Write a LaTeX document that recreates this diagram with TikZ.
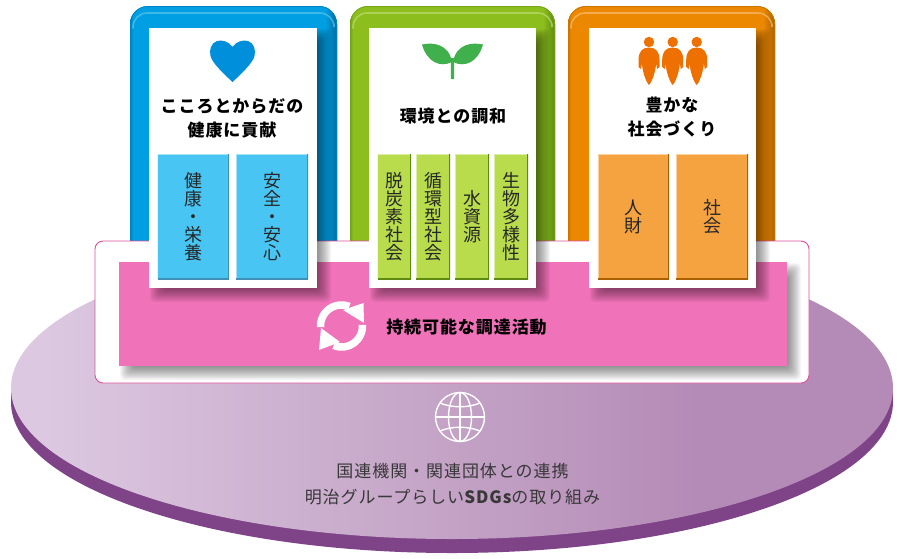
\documentclass[tikz,border=0pt]{standalone}
\usepackage{fontspec}
\setmainfont{Noto Sans CJK JP}
\newfontfamily\jpt[LetterSpace=5.5]{Noto Sans CJK JP}
\usetikzlibrary{calc}
\definecolor{bluebase}{HTML}{009FE3}
\definecolor{bluedark}{HTML}{00699E}
\definecolor{bluelight}{HTML}{6CCBF0}
\definecolor{greenbase}{HTML}{8CBE1E}
\definecolor{greendark}{HTML}{5E8A12}
\definecolor{greenlight}{HTML}{C4E07E}
\definecolor{orangebase}{HTML}{EC8800}
\definecolor{orangedark}{HTML}{A86000}
\definecolor{orangelight}{HTML}{F8C684}
\definecolor{pinkfill}{HTML}{F072B8}
\definecolor{pinkline}{HTML}{DD5098}
\definecolor{discl}{HTML}{DCC8E0}
\definecolor{discr}{HTML}{B48BB6}
\definecolor{discside}{HTML}{7F4488}
\definecolor{subblue}{HTML}{49C5F3}
\definecolor{subgreen}{HTML}{B8DC4C}
\definecolor{suborange}{HTML}{F5A340}
\definecolor{heartc}{HTML}{0090DB}
\definecolor{sproutc}{HTML}{3FB04B}
\definecolor{peoplec}{HTML}{EE7000}
\pgfdeclarehorizontalshading{discshade}{100bp}{color(0bp)=(discl); color(27bp)=(discl); color(64bp)=(discr); color(100bp)=(discr)}
\newcommand{\softshadow}[4]{%
  \foreach \k in {0,...,15}{%
    \fill[black,opacity=.035,rounded corners=4pt]
      ({#1+1+\k*1},{#2+1+\k*1}) rectangle ({#3+14-\k*1},{#4+14-\k*1});
  }}
\newcommand{\cardbase}[5]{%
  \fill[#3,rounded corners=18pt] (#1,6) rectangle (#2,270);
  \begin{scope}
    \clip[rounded corners=18pt] (#1,6) rectangle (#2,270);
    \shade[left color=#3,right color=#4] ({#2-12},6) rectangle (#2,270);
    \shade[left color=#4!60!#3,right color=#3] (#1,6) rectangle ({#1+3},270);
    \draw[#4!50!#3,line width=1.5pt,rounded corners=18pt] (#1,6) rectangle (#2,270);
  \end{scope}
  \draw[#5,line width=1.6pt,opacity=.6,rounded corners=14pt,line cap=round]
    ({#1+3},28) -- ({#1+3},13) -- ({#2-3},13) -- ({#2-3},24);
}
\tikzset{
  whitecard/.style={fill=white,draw=none,inner sep=0pt},
  subbox/.style n args={3}{fill=#1,inner sep=0pt,align=center,
    font=\fontsize{18}{18}\selectfont,text=black!85,
    path picture={
      \draw[#3,line width=1.6pt] (path picture bounding box.south west) -- (path picture bounding box.north west) -- (path picture bounding box.north east);
      \draw[#2,line width=1.6pt] (path picture bounding box.south west) -- (path picture bounding box.south east) -- (path picture bounding box.north east);
    }},
  bluesub/.style={subbox={subblue}{bluedark!75}{subblue!50!white}},
  greensub/.style={subbox={subgreen}{greendark}{subgreen!50!white}},
  orangesub/.style={subbox={suborange}{orangedark}{suborange!50!white}},
  title/.style={font=\jpt\bfseries\fontsize{17}{24}\selectfont,align=center,text=black,inner sep=0pt},
  lower/.style={font=\jpt\fontsize{17}{26}\selectfont,align=center,text=black!78,inner sep=0pt},
}
\newcommand{\subb}[5]{%
  \node[#1,minimum width={#4-#3},minimum height=125pt] (#2) at ({(#3+#4)/2},216.5) {#5};}
\begin{document}
\begin{tikzpicture}[x=1pt,y=-1pt]
\useasboundingbox (0,0) rectangle (900,558);
\fill[white] (0,0) rectangle (900,558);
% disc
\fill[discside] (452,402) ellipse [x radius=441,y radius=151];
\fill[discside] (11,388) rectangle (893,402);
\path[shading=discshade] (452,388) ellipse [x radius=441,y radius=151];
% coloured card backs
\cardbase{130}{337}{bluebase}{bluedark}{bluelight}
\cardbase{350}{555}{greenbase}{greendark}{greenlight}
\cardbase{568}{775}{orangebase}{orangedark}{orangelight}
% band
\node[fill=white,draw=pinkline,line width=.9pt,rounded corners=8pt,minimum width=714pt,minimum height=142pt,inner sep=0pt] (band) at (452,312) {};
\softshadow{119}{262}{787}{366}
\node[fill=pinkfill,minimum width=668pt,minimum height=104pt,inner sep=0pt] (pink) at (453,314) {};
% white cards
\softshadow{149}{28}{317}{288}
\softshadow{369}{28}{536}{288}
\softshadow{589}{28}{756}{288}
\node[whitecard,minimum width=168pt,minimum height=260pt] (cardA) at (233,158) {};
\node[whitecard,minimum width=167pt,minimum height=260pt] (cardB) at (452.5,158) {};
\node[whitecard,minimum width=167pt,minimum height=260pt] (cardC) at (672.5,158) {};
% titles
\node[title] (titleA) at (232,118) {こころとからだの\\健康に貢献};
\node[title] (titleB) at (453,116) {環境との調和};
\node[title] (titleC) at (672,117) {豊かな\\社会づくり};
% sub boxes
\subb{bluesub}{a1}{157.5}{229}{健\\康\\・\\栄\\養}
\subb{bluesub}{a2}{236}{308}{安\\全\\・\\安\\心}
\subb{greensub}{b1}{377.5}{411}{脱\\炭\\素\\社\\会}
\subb{greensub}{b2}{416}{450}{循\\環\\型\\社\\会}
\subb{greensub}{b3}{455}{489}{水\\資\\源}
\subb{greensub}{b4}{494}{528}{生\\物\\多\\様\\性}
\subb{orangesub}{c1}{598}{669}{人\\財}
\subb{orangesub}{c2}{676}{748}{社\\会}
% heart
\fill[heartc] (232.5,47) .. controls (229,41.5) and (222,39.5) .. (217,41) .. controls (211,43) and (209,50) .. (210.5,56) .. controls (212,63) and (225,75) .. (232.5,82)
 .. controls (240,75) and (253,63) .. (254.5,56) .. controls (256,50) and (254,43) .. (248,41) .. controls (243,39.5) and (236,41.5) .. (232.5,47) -- cycle;
% sprout
\fill[sproutc] (422,44.5) .. controls (433,42) and (449,44) .. (452,62) .. controls (440,68) and (427,62) .. (422,44.5) -- cycle;
\fill[sproutc] (483,44.5) .. controls (472,42) and (456,44) .. (453,62) .. controls (465,68) and (478,62) .. (483,44.5) -- cycle;
\fill[sproutc] (451,58) -- (454,58) -- (454.2,79) -- (450.8,79) -- cycle;
% people
\foreach \cx in {649,672.7,696.7}{
  \begin{scope}[shift={(\cx,0)}]
    \fill[peoplec] (0,42) circle [radius=5.2pt];
    \fill[peoplec] (0,47.5) .. controls (-7,47.5) and (-10.5,52) .. (-10.5,60) -- (-10.5,67) -- (-8,69) -- (-7.2,63) .. controls (-6.5,72) and (-3,82) .. (0,85)
      .. controls (3,82) and (6.5,72) .. (7.2,63) -- (8,69) -- (10.5,67) -- (10.5,60) .. controls (10.5,52) and (7,47.5) .. (0,47.5) -- cycle;
  \end{scope}
}
% sync icon
\draw[white,line width=7.5pt] plot[smooth,domain=183:68,samples=24] ({341.5+21*cos(\x)},{326-21*sin(\x)});
\draw[white,line width=7.5pt] plot[smooth,domain=3:-112,samples=24] ({341.5+21*cos(\x)},{326-21*sin(\x)});
\fill[white] (363.5,303) -- (364,323) -- (343,310) -- cycle;
\fill[white] (319,350) -- (321,328) -- (340,342) -- cycle;
% band text
\node[title] (bandtext) at (466.5,327) {持続可能な調達活動};
% globe
\begin{scope}[white,line width=1.4pt]
  \draw (460,417) circle [radius=24.5pt];
  \draw (460,417) ellipse [x radius=11.5,y radius=24.5];
  \draw (460,392.5) -- (460,441.5);
  \draw (435.5,417) -- (484.5,417);
  \draw (440,403) .. controls (452,408) and (468,408) .. (480,403);
  \draw (440,431) .. controls (452,426) and (468,426) .. (480,431);
\end{scope}
% lower text
\node[lower] (low) at (452.5,484) {国連機関・関連団体との連携\\明治グループらしい{\bfseries SDGs}の取り組み};
\end{tikzpicture}
\end{document}
